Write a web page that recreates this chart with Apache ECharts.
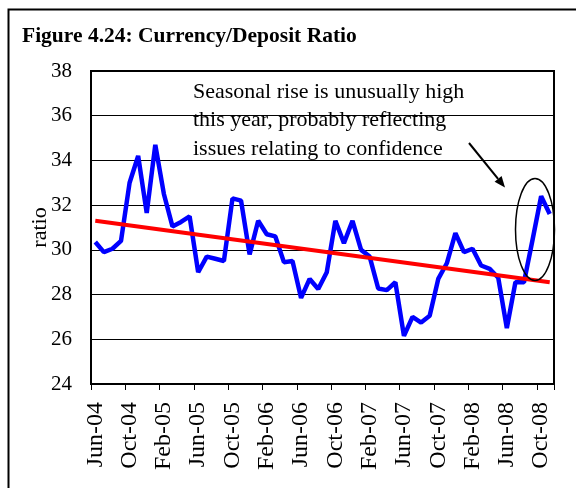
<!DOCTYPE html>
<html>
<head>
<meta charset="utf-8">
<script src="https://cdn.jsdelivr.net/npm/echarts@6/dist/echarts.min.js"></script>
<style>
  html, body { margin: 0; padding: 0; background: #fff; }
  #chart { width: 576px; height: 488px; }
</style>
</head>
<body>
<div id="chart"></div>
<script>
// Monthly categories, Jun-04 to Nov-08
const months = [
  'Jun-04','Jul-04','Aug-04','Sep-04','Oct-04','Nov-04','Dec-04','Jan-05','Feb-05','Mar-05','Apr-05','May-05',
  'Jun-05','Jul-05','Aug-05','Sep-05','Oct-05','Nov-05','Dec-05','Jan-06','Feb-06','Mar-06','Apr-06','May-06',
  'Jun-06','Jul-06','Aug-06','Sep-06','Oct-06','Nov-06','Dec-06','Jan-07','Feb-07','Mar-07','Apr-07','May-07',
  'Jun-07','Jul-07','Aug-07','Sep-07','Oct-07','Nov-07','Dec-07','Jan-08','Feb-08','Mar-08','Apr-08','May-08',
  'Jun-08','Jul-08','Aug-08','Sep-08','Oct-08','Nov-08'
];

// Currency/deposit ratio
const ratio = [
  30.35, 29.9, 30.05, 30.4, 33.0, 34.2, 31.65, 34.7, 32.5, 31.05, 31.25, 31.5,
  29.0, 29.7, 29.6, 29.5, 32.3, 32.2, 29.8, 31.3, 30.7, 30.6, 29.45, 29.5,
  27.85, 28.7, 28.25, 29.0, 31.3, 30.3, 31.3, 30.0, 29.7, 28.27, 28.2, 28.55,
  26.15, 27.0, 26.75, 27.05, 28.7, 29.4, 30.75, 29.9, 30.05, 29.3, 29.15, 28.75,
  26.5, 28.55, 28.55, 30.45, 32.4, 31.6
];

// Linear trend: values at the first and last month
const trendEnds = [31.3, 28.55];

// Y-axis scale
const yMin = 24, yMax = 38, yStep = 2;

const serif = "'Liberation Serif', 'Times New Roman', serif";

const chart = echarts.init(document.getElementById('chart'), null, { renderer: 'canvas' });

// Arrow geometry for the callout
const arrowFrom = [469, 143], arrowTip = [505, 187.5];
const dx = arrowTip[0] - arrowFrom[0], dy = arrowTip[1] - arrowFrom[1];
const len = Math.sqrt(dx * dx + dy * dy);
const ux = dx / len, uy = dy / len;
const headLen = 11, headHalf = 4.5;
const base = [arrowTip[0] - ux * headLen, arrowTip[1] - uy * headLen];

chart.setOption({
  backgroundColor: '#fff',
  animation: false,
  grid: {
    left: 91, right: 22, top: 71, bottom: 104,
    show: true, borderColor: '#000', borderWidth: 2, backgroundColor: 'transparent'
  },
  xAxis: {
    type: 'category',
    data: months,
    boundaryGap: true,
    axisLine: { show: true, lineStyle: { color: '#000', width: 2 } },
    axisTick: { show: true, interval: 3, length: 6, lineStyle: { color: '#000', width: 1 } },
    axisLabel: {
      interval: 3, rotate: 90, margin: 18,
      fontFamily: serif, fontSize: 24, color: '#000'
    },
    splitLine: { show: false }
  },
  yAxis: {
    type: 'value',
    min: yMin, max: yMax, interval: yStep,
    name: 'ratio',
    nameLocation: 'middle',
    nameRotate: 90,
    nameGap: 40,
    nameMoveOverlap: false,
    nameTextStyle: { fontFamily: serif, fontSize: 22, color: '#000' },
    axisLine: { show: true, lineStyle: { color: '#000', width: 2 } },
    axisTick: { show: false },
    axisLabel: { margin: 19, fontFamily: serif, fontSize: 21, color: '#000' },
    splitLine: { show: true, lineStyle: { color: '#000', width: 1 } }
  },
  series: [
    {
      name: 'ratio',
      type: 'line',
      data: ratio,
      symbol: 'none',
      lineStyle: { color: '#0000ff', width: 4.5 },
      z: 3
    },
    {
      name: 'trend',
      type: 'line',
      data: [[months[0], trendEnds[0]], [months[months.length - 1], trendEnds[1]]],
      symbol: 'none',
      lineStyle: { color: '#ff0000', width: 4 },
      z: 4
    }
  ],
  graphic: [
    // outer figure frame
    {
      type: 'rect', left: 6, top: 7, z: 0,
      shape: { width: 600, height: 520 },
      style: { fill: 'none', stroke: '#000', lineWidth: 2 }
    },
    {
      type: 'text', left: 22, top: 25, z: 10,
      style: {
        text: 'Figure 4.24: Currency/Deposit Ratio',
        font: "bold 21.5px 'Liberation Serif', 'Times New Roman', serif",
        fill: '#000'
      }
    },
    {
      type: 'text', left: 193, top: 78, z: 10,
      style: {
        text: 'Seasonal rise is unusually high\nthis year, probably reflecting\nissues relating to confidence',
        font: "22px 'Liberation Serif', 'Times New Roman', serif",
        lineHeight: 28.4,
        fill: '#000'
      }
    },
    {
      type: 'ellipse', z: 10,
      shape: { cx: 535, cy: 229.5, rx: 19.5, ry: 51 },
      style: { fill: 'none', stroke: '#000', lineWidth: 1.5 }
    },
    {
      type: 'line', z: 10,
      shape: { x1: arrowFrom[0], y1: arrowFrom[1], x2: base[0], y2: base[1] },
      style: { stroke: '#000', lineWidth: 2 }
    },
    {
      type: 'polygon', z: 10,
      shape: {
        points: [
          arrowTip,
          [base[0] - uy * headHalf, base[1] + ux * headHalf],
          [base[0] + uy * headHalf, base[1] - ux * headHalf]
        ]
      },
      style: { fill: '#000' }
    }
  ]
});
</script>
</body>
</html>
